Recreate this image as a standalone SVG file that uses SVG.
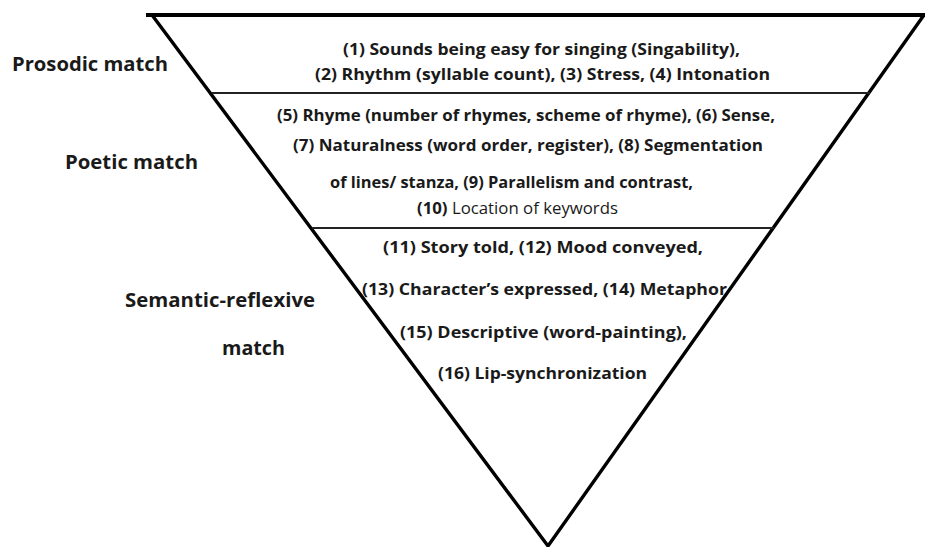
<svg xmlns="http://www.w3.org/2000/svg" width="925" height="547" viewBox="0 0 925 547">
<style>
.bg{fill:#ffffff}
.edge{fill:none;stroke:#000;stroke-width:3.4;stroke-linecap:butt}
.top{fill:none;stroke:#000;stroke-width:4}
.div{fill:none;stroke:#222;stroke-width:2}
.t{font-family:"Open Sans","Liberation Sans",sans-serif;font-weight:700;font-size:16.5px;fill:#1a1a1a}
.lab{font-family:"Open Sans","Liberation Sans",sans-serif;font-weight:700;font-size:19.5px;fill:#1a1a1a}
.reg{font-weight:400}
</style>
<rect class="bg" x="0" y="0" width="925" height="547"/>
<g id="pyramid">
  <line class="top" x1="146" y1="15" x2="925" y2="15"/>
  <polyline class="edge" points="152,15 548,546 924,15"/>
</g>
<g id="dividers">
  <line class="div" x1="212" y1="93" x2="870" y2="93"/>
  <line class="div" x1="312" y1="228" x2="774" y2="228"/>
</g>
<g id="prosodic">
  <text class="lab" x="12" y="71" textLength="156" lengthAdjust="spacingAndGlyphs">Prosodic match</text>
  <text class="t" x="343" y="55" textLength="397" lengthAdjust="spacingAndGlyphs">(1) Sounds being easy for singing (Singability),</text>
  <text class="t" x="315" y="80" textLength="455" lengthAdjust="spacingAndGlyphs">(2) Rhythm (syllable count), (3) Stress, (4) Intonation</text>
</g>
<g id="poetic">
  <text class="lab" x="65" y="169" textLength="133" lengthAdjust="spacingAndGlyphs">Poetic match</text>
  <text class="t" x="277" y="121" textLength="498" lengthAdjust="spacingAndGlyphs">(5) Rhyme (number of rhymes, scheme of rhyme), (6) Sense,</text>
  <text class="t" x="293" y="151" textLength="470" lengthAdjust="spacingAndGlyphs">(7) Naturalness (word order, register), (8) Segmentation</text>
  <text class="t" x="330" y="188" textLength="363" lengthAdjust="spacingAndGlyphs">of lines/ stanza, (9) Parallelism and contrast,</text>
  <text class="t" x="417" y="214" textLength="201" lengthAdjust="spacingAndGlyphs">(10) <tspan class="reg">Location of keywords</tspan></text>
</g>
<g id="semantic">
  <text class="lab" x="125" y="307" textLength="190" lengthAdjust="spacingAndGlyphs">Semantic-reflexive</text>
  <text class="lab" x="222" y="355" textLength="63" lengthAdjust="spacingAndGlyphs">match</text>
  <text class="t" x="383" y="253" textLength="320" lengthAdjust="spacingAndGlyphs">(11) Story told, (12) Mood conveyed,</text>
  <text class="t" x="362" y="295" textLength="365" lengthAdjust="spacingAndGlyphs">(13) Character’s expressed, (14) Metaphor</text>
  <text class="t" x="400" y="338" textLength="287" lengthAdjust="spacingAndGlyphs">(15) Descriptive (word-painting),</text>
  <text class="t" x="438" y="379" textLength="209" lengthAdjust="spacingAndGlyphs">(16) Lip-synchronization</text>
</g>
</svg>
